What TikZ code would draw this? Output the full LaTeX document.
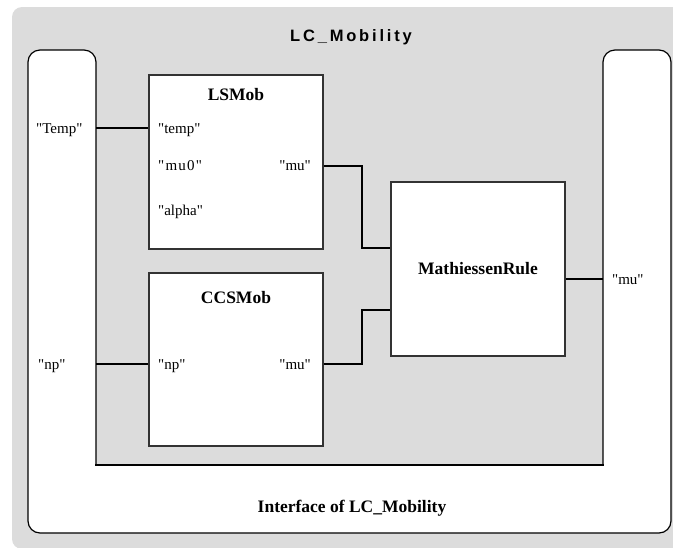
\documentclass[tikz,border=0pt]{standalone}
\usepackage{fontspec}
\setmainfont{Liberation Serif}[Ligatures=TeXOff]
\newfontfamily\lcfont[LetterSpace=17]{Liberation Sans}
\newfontfamily\spfont[LetterSpace=8,Ligatures=TeXOff]{Liberation Serif}
\definecolor{bggrey}{RGB}{220,220,220}
\begin{document}
\begin{tikzpicture}[x=1pt,y=-1pt,
  comp/.style={draw=black!80, line width=1.1pt, fill=white, inner sep=0pt, minimum width=174pt, minimum height=174pt},
  ttl/.style={font=\fontsize{17.5}{20}\selectfont\bfseries, inner sep=0pt, anchor=base},
  port/.style={font=\fontsize{15}{18}\selectfont, inner sep=0pt},
  wire/.style={line width=2pt, black},
  ifc/.style={line width=1.2pt, black}]
\useasboundingbox (0,0) rectangle (673,547);
% outer grey panel
\fill[bggrey, rounded corners=10pt] (12,7) rectangle (700,549);
% interface outline (white U shape)
\path[fill=white, draw=black, line width=1.2pt, rounded corners=12pt]
  (96,465) -- (96,50) -- (28,50) -- (28,533) -- (671,533) -- (671,50) -- (603,50) -- (603,465);
\draw[ifc, line cap=rect] (96,465) -- (603,465);
% title
\node[inner sep=0pt, anchor=base, font=\lcfont\bfseries\fontsize{16.5}{19}\selectfont] (title) at (351,41.5) {LC\_Mobility};
\node[ttl] (ifT) at (352,512) {Interface of LC\_Mobility};
% interface port labels
\node[port, anchor=base west] (ifTempL) at (36,133) {"Temp"};
\node[port, anchor=base west] (ifNpL) at (38,369) {"np"};
\node[port, anchor=base west] (ifMuL) at (612,284.5) {"mu"};
\coordinate (ifTemp) at (96,128);
\coordinate (ifNp) at (96,364);
\coordinate (ifMu) at (603,279);
% components
\node[comp] (ls) at (236,162) {};
\node[comp, minimum height=173pt] (cc) at (236,359.5) {};
\node[comp] (mr) at (478,269) {};
\node[ttl] (lsT) at (236,100) {LSMob};
\node[ttl] (ccT) at (236,303) {CCSMob};
\node[ttl] (mrT) at (478,274) {MathiessenRule};
% component port labels
\node[port, anchor=base west] (lsTemp) at (158,133) {"temp"};
\node[port, anchor=base west, font=\spfont\fontsize{15}{18}\selectfont] (lsMu0) at (158,170.5) {"mu0"};
\node[port, anchor=base west] (lsAlpha) at (158,215.5) {"alpha"};
\node[port, anchor=base east] (lsMu) at (311,170.5) {"mu"};
\node[port, anchor=base west] (ccNp) at (158,369) {"np"};
\node[port, anchor=base east] (ccMu) at (311,369) {"mu"};
% port coordinates
\coordinate (lsOut) at (ls.east |- 0,166);
\coordinate (ccOut) at (cc.east |- 0,364);
\coordinate (mrIn1) at (mr.west |- 0,248);
\coordinate (mrIn2) at (mr.west |- 0,310);
\coordinate (mrOut) at (mr.east |- 0,279);
% connectors
\draw[wire] (ifTemp) -- (ifTemp -| ls.west);
\draw[wire] (ifNp) -- (ifNp -| cc.west);
\draw[wire] (lsOut) -- ++(38,0) |- (mrIn1);
\draw[wire] (ccOut) -- ++(38,0) |- (mrIn2);
\draw[wire] (mrOut) -- (ifMu);
\end{tikzpicture}
\end{document}
